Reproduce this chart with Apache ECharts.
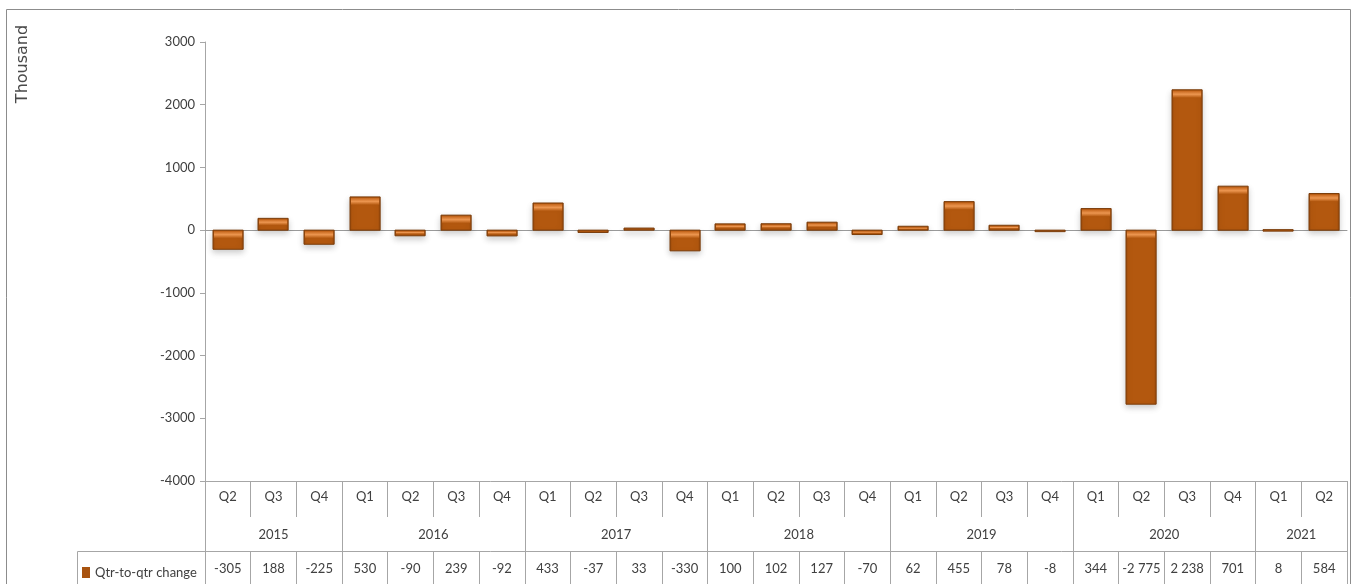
<!DOCTYPE html>
<html>
<head>
<meta charset="utf-8">
<script src="https://cdn.jsdelivr.net/npm/echarts@6/dist/echarts.min.js"></script>
<style>
  html, body { margin: 0; padding: 0; background: #fff; }
  #chart { width: 1354px; height: 584px; }
</style>
</head>
<body>
<div id="chart"></div>
<script>
// Quarter-on-quarter change, thousands
const quarters = ['Q2','Q3','Q4','Q1','Q2','Q3','Q4','Q1','Q2','Q3','Q4','Q1','Q2','Q3','Q4',
                  'Q1','Q2','Q3','Q4','Q1','Q2','Q3','Q4','Q1','Q2'];
const yearOf = ['2015','2015','2015','2016','2016','2016','2016','2017','2017','2017','2017',
                '2018','2018','2018','2018','2019','2019','2019','2019','2020','2020','2020','2020',
                '2021','2021'];
const changes = [-305, 188, -225, 530, -90, 239, -92, 433, -37, 33, -330, 100, 102, 127, -70,
                 62, 455, 78, -8, 344, -2775, 2238, 701, 8, 584];
const seriesName = 'Qtr-to-qtr change';
const yTicks = { min: -4000, max: 3000, step: 1000 };

// year spans on the category index scale
const yearGroups = [];
yearOf.forEach((y, i) => {
  const last = yearGroups[yearGroups.length - 1];
  if (last && last.year === y) last.end = i + 1;
  else yearGroups.push({ year: y, start: i, end: i + 1 });
});
const yearBounds = [0].concat(yearGroups.map(g => g.end));
const yearMids = yearGroups.map(g => (g.start + g.end) / 2);
const yearLabelAt = {};
yearGroups.forEach((g, k) => { yearLabelAt[yearMids[k]] = g.year; });

function fmt(v) {
  const s = Math.abs(v).toString().replace(/\B(?=(\d{3})+(?!\d))/g, ' ');
  return (v < 0 ? '-' : '') + s;
}

const FONT = 'Lato';
const TXT = '#404040';
const LINE = '#a6a6a6';

const chart = echarts.init(document.getElementById('chart'));

// bevelled bar: dark rim, lighter top edge, soft drop shadow
function renderBar(params, api) {
  const i = api.value(0), v = api.value(1);
  const p0 = api.coord([i, 0]);
  const p1 = api.coord([i, v]);
  const w = api.size([1, 0])[0] * 0.66;
  const x = Math.round(p0[0] - w / 2);
  const top = Math.min(p0[1], p1[1]);
  const h = Math.max(Math.abs(p1[1] - p0[1]), 1.5);
  const b = Math.min(7, h / 2);
  const children = [
    {
      type: 'rect',
      shape: { x: x, y: top, width: w, height: h },
      style: {
        fill: new echarts.graphic.LinearGradient(0, 0, 1, 0, [
          { offset: 0, color: '#a04c0c' },
          { offset: 0.1, color: '#b3580f' },
          { offset: 0.9, color: '#b3580f' },
          { offset: 1, color: '#a04c0c' }
        ]),
        stroke: '#7a3c0a',
        lineWidth: 1,
        shadowBlur: 6,
        shadowOffsetY: 3,
        shadowColor: 'rgba(0,0,0,0.2)'
      }
    }
  ];
  if (h > 3) {
    children.push({
      type: 'rect',
      shape: { x: x + 1, y: top + 1, width: w - 2, height: b },
      style: {
        fill: new echarts.graphic.LinearGradient(0, 0, 0, 1, [
          { offset: 0, color: '#c4641a' },
          { offset: 0.5, color: '#ec9650' },
          { offset: 1, color: '#b3580f' }
        ])
      }
    });
  }
  return { type: 'group', children: children };
}

chart.setOption({
  animation: false,
  backgroundColor: '#fff',
  grid: { left: 205, right: 7, top: 42, bottom: 103, containLabel: false },
  legend: {
    left: 77, top: 561,
    itemWidth: 8, itemHeight: 11, itemGap: 6,
    icon: 'rect',
    data: [seriesName],
    textStyle: { fontFamily: FONT, fontSize: 13, color: TXT },
    selectedMode: false
  },
  xAxis: [
    { // quarter row
      type: 'category', data: quarters, position: 'bottom',
      axisLine: { show: true, onZero: false, lineStyle: { color: LINE } },
      axisTick: { show: true, interval: 0, length: 36, lineStyle: { color: LINE } },
      axisLabel: { interval: 0, margin: 9, fontFamily: FONT, fontSize: 13, color: TXT },
      splitLine: { show: false }
    },
    { // year row
      type: 'value', min: 0, max: quarters.length, position: 'bottom',
      axisLine: { show: false, onZero: false },
      axisTick: { show: true, customValues: yearBounds, length: 110, lineStyle: { color: LINE } },
      axisLabel: {
        customValues: yearMids, margin: 47,
        formatter: v => yearLabelAt[v] || '',
        fontFamily: FONT, fontSize: 13, color: TXT
      },
      splitLine: { show: false }
    },
    { // data row
      type: 'category', data: changes.map(fmt), position: 'bottom', offset: 70,
      axisLine: { show: true, onZero: false, lineStyle: { color: LINE } },
      axisTick: { show: true, interval: 0, length: 40, lineStyle: { color: LINE } },
      axisLabel: { interval: 0, margin: 11, fontFamily: FONT, fontSize: 13, color: TXT },
      splitLine: { show: false }
    },
    { // zero line
      type: 'category', data: quarters,
      axisLine: { show: true, onZero: true, onZeroAxisIndex: 0, lineStyle: { color: '#9a9a9a' } },
      axisTick: { show: false },
      axisLabel: { show: false },
      splitLine: { show: false }
    }
  ],
  yAxis: {
    type: 'value', min: yTicks.min, max: yTicks.max, interval: yTicks.step,
    axisLine: { show: true, lineStyle: { color: LINE } },
    axisTick: { show: true, length: 5, lineStyle: { color: LINE } },
    axisLabel: { margin: 10, fontFamily: FONT, fontSize: 13, color: TXT, formatter: v => String(v) },
    splitLine: { show: false }
  },
  series: [{
    name: seriesName,
    type: 'custom',
    xAxisIndex: 0,
    yAxisIndex: 0,
    itemStyle: { color: '#a8530f' },
    encode: { x: 0, y: 1 },
    data: changes.map((v, i) => [i, v]),
    renderItem: renderBar
  }],
  graphic: [
    { // chart frame
      type: 'rect', silent: true, z: -1,
      shape: { x: 6.5, y: 9.5, width: 1344, height: 620 },
      style: { fill: 'none', stroke: '#8c8c8c', lineWidth: 1 }
    },
    { // legend cell top border
      type: 'line', silent: true,
      shape: { x1: 77.5, y1: 551.5, x2: 206, y2: 551.5 },
      style: { stroke: LINE, lineWidth: 1 }
    },
    { // legend cell left border
      type: 'line', silent: true,
      shape: { x1: 77.5, y1: 551.5, x2: 77.5, y2: 600 },
      style: { stroke: LINE, lineWidth: 1 }
    },
    {
      type: 'text', silent: true,
      x: 15, y: 64, rotation: Math.PI / 2,
      style: {
        text: 'Thousand', fill: '#4a4a4a',
        font: '16px "DejaVu Sans"',
        align: 'center', verticalAlign: 'top'
      }
    }
  ]
});
</script>
</body>
</html>
